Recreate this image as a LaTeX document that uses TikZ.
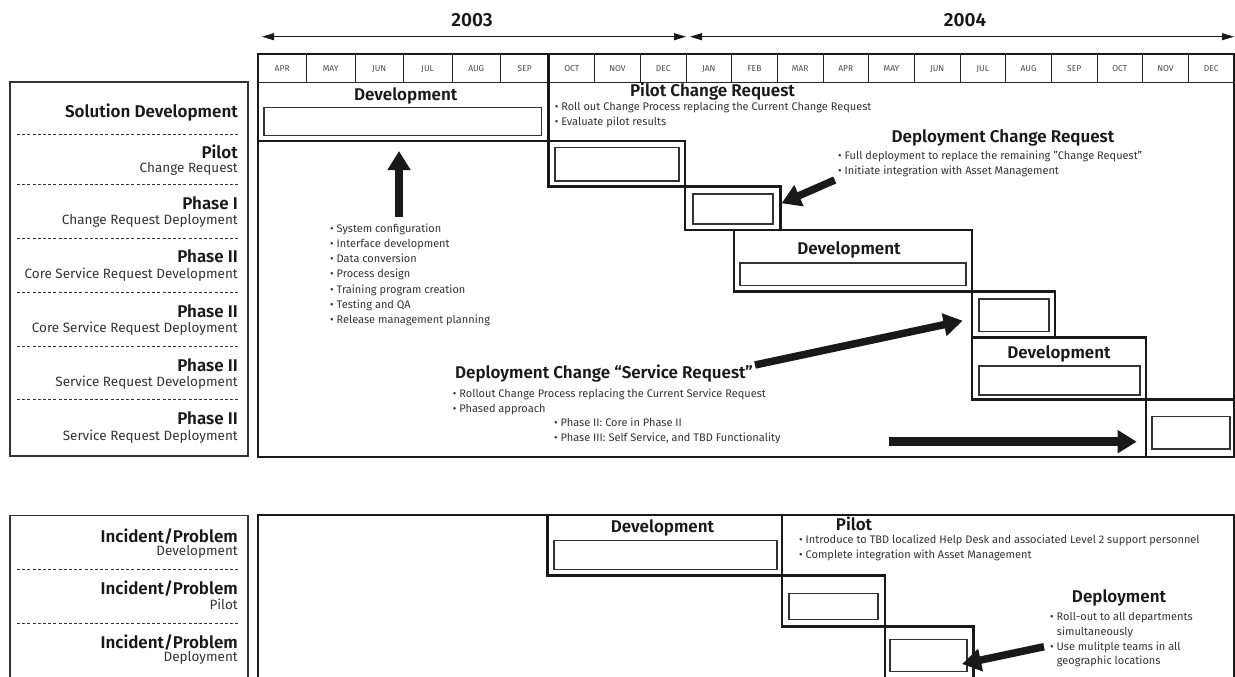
\documentclass[tikz,border=0pt]{standalone}
\usepackage{fontspec}
\setmainfont{Fira Sans}[BoldFont={Fira Sans SemiBold}]
\usetikzlibrary{arrows.meta,fit}
\tikzset{
  thickbox/.style={draw=black!90, line width=2.6pt, inner sep=0pt, outer sep=0pt},
  innerbox/.style={draw=black!80, line width=1.1pt, inner sep=0pt, outer sep=0pt},
  thinbox/.style={draw=black!80, line width=1.1pt, inner sep=0pt, outer sep=0pt},
  gridline/.style={draw=black!85, line width=0.8pt},
  sepline/.style={draw=black!80, line width=0.9pt, dash pattern=on 3pt off 2.2pt},
  monthlbl/.style={font=\fontsize{8.5}{10}\selectfont, text=black!70, inner sep=0pt, anchor=base},
  yearlbl/.style={font=\fontsize{19}{22}\selectfont\bfseries, text=black!90, inner sep=0pt, anchor=base},
  ttl/.style={font=\fontsize{17}{19}\selectfont\bfseries, text=black!90, inner sep=0pt, anchor=base},
  lbl/.style={font=\fontsize{17}{19}\selectfont\bfseries, text=black!90, inner sep=0pt, anchor=base east},
  sublbl/.style={font=\fontsize{13.5}{16}\selectfont, text=black!80, inner sep=0pt, anchor=base east},
  bul/.style={font=\fontsize{11}{13}\selectfont, text=black!80, inner sep=0pt, anchor=base west},
  sbul/.style={font=\fontsize{11}{13}\selectfont, text=black!80, inner sep=0pt, anchor=base west},
  blockarrow/.style={draw=black!90, line width=7.5pt, -{Triangle[length=19pt,width=22pt]}},
  yeararrow/.style={draw=black!90, line width=1pt, {Triangle[length=12pt,width=7pt]}-{Triangle[length=12pt,width=7pt]}},
}
\begin{document}
\begin{tikzpicture}[x=1pt,y=-1pt]
\useasboundingbox (0,0) rectangle (1235,677);
\clip (0,0) rectangle (1235,677);

% ---------- years ----------
\node[yearlbl] (y2003) at (472,26.5) {2003};
\node[yearlbl] (y2004) at (965,26.5) {2004};
\coordinate (a03l) at (262,36.7); \coordinate (a03r) at (686,36.7);
\coordinate (a04l) at (690,36.7); \coordinate (a04r) at (1234,36.7);
\draw[yeararrow] (a03l) -- (a03r);
\draw[yeararrow] (a04l) -- (a04r);

% ---------- month row ----------
\draw[gridline] (258,82) -- (1234,82);
\foreach \x in {306.5,355,403.5,452,500.5,594.7,640.4,686,731.7,777.4,823,868.7,914.4,960,1005.7,1051.4,1097,1142.7,1188.4}
  \draw[gridline] (\x,54) -- (\x,82);
\foreach \c/\m [count=\i] in {282.2/APR,330.7/MAY,379.2/JUN,427.7/JUL,476.2/AUG,524.7/SEP,571.8/OCT,617.5/NOV,663.2/DEC,708.8/JAN,754.5/FEB,800.2/MAR,845.8/APR,891.5/MAY,937.2/JUN,982.8/JUL,1028.5/AUG,1074.2/SEP,1119.8/OCT,1165.5/NOV,1211.2/DEC}
  \node[monthlbl] (m\i) at (\c,72) {\m};

% ---------- upper main box ----------
\node[thickbox, fit={(258,54)(1234,457)}] (main) {};

% gantt blocks
\node[thickbox, fit={(258,54)(548.5,141)}] (devA) {};
\node[innerbox, fit={(264,107.3)(541.7,135.7)}] (devAi) {};
\node[thickbox, fit={(548.5,141)(685,186.7)}] (pilA) {};
\node[innerbox, fit={(555,147.7)(679,181)}] (pilAi) {};
\node[thickbox, fit={(685,186.7)(780.5,230)}] (ph1) {};
\node[innerbox, fit={(693,194)(773,224)}] (ph1i) {};
\node[thickbox, fit={(734,230)(972,291.7)}] (devB) {};
\node[innerbox, fit={(740,263)(966,285.7)}] (devBi) {};
\node[thickbox, fit={(972,291.7)(1055,337.7)}] (cdep) {};
\node[innerbox, fit={(979,299)(1049,331.7)}] (cdepi) {};
\node[thickbox, fit={(972,337.7)(1146,399.3)}] (sdev) {};
\node[innerbox, fit={(979,366)(1140,395)}] (sdevi) {};
\node[thickbox, fit={(1146,399.3)(1234,457)}] (sdep) {};
\node[innerbox, fit={(1152,416.7)(1230,449)}] (sdepi) {};

% texts in upper box
\node[ttl] (devAt) at (405.7,100) {Development};
\node[ttl] (pcrT) at (712.5,96.7) {Pilot Change Request};
\node[bul] (pcr1) at (554.6,110.3) {• Roll out Change Process replacing the Current Change Request};
\node[bul] (pcr2) at (554.6,125) {• Evaluate pilot results};
\node[ttl] (dcrT) at (1003,142.7) {Deployment Change Request};
\node[bul] (dcr1) at (838,159.3) {• Full deployment to replace the remaining "Change Request"};
\node[bul] (dcr2) at (838,174) {• Initiate integration with Asset Management};
\node[ttl] (devBt) at (849,254.3) {Development};
\node[ttl] (sdevt) at (1059,358.3) {Development};

\node[bul] (sl1) at (330,232.3) {• System configuration};
\node[bul] (sl2) at (330,247.5) {• Interface development};
\node[bul] (sl3) at (330,262.7) {• Data conversion};
\node[bul] (sl4) at (330,277.9) {• Process design};
\node[bul] (sl5) at (330,293.1) {• Training program creation};
\node[bul] (sl6) at (330,308.3) {• Testing and QA};
\node[bul] (sl7) at (330,323.5) {• Release management planning};

\node[ttl] (dsrT) at (604,378.3) {Deployment Change “Service Request”};
\node[bul] (dsr1) at (452.7,397.3) {• Rollout Change Process replacing the Current Service Request};
\node[bul] (dsr2) at (452.7,412.3) {• Phased approach};
\node[sbul] (dsr3) at (554,426.7) {• Phase II: Core in Phase II};
\node[sbul] (dsr4) at (554,441) {• Phase III: Self Service, and TBD Functionality};

% arrows in upper box
\coordinate (upT) at (399,216.7); \coordinate (upH) at (399,151);
\draw[blockarrow, line width=8.5pt] (upT) -- (upH);
\coordinate (dcrA) at (834.8,180); \coordinate (dcrH) at (781.6,203.3);
\draw[blockarrow] (dcrA) -- (dcrH);
\coordinate (dsrA) at (755,365); \coordinate (dsrH) at (962.7,320.7);
\draw[blockarrow] (dsrA) -- (dsrH);
\coordinate (hzA) at (889,441.7); \coordinate (hzH) at (1136.7,441.7);
\draw[blockarrow, line width=9pt] (hzA) -- (hzH);

% ---------- upper left label box ----------
\node[thinbox, fit={(10,82)(248,456)}] (lbox) {};
\foreach \d in {134.3,184,238,292,346,399}
  \draw[sepline] (17,\d) -- (238,\d);
\node[lbl] (l0) at (238,117.5) {Solution Development};
\node[lbl] (l1) at (238,158.5) {Pilot};
\node[sublbl] (l1s) at (238,172.5) {Change Request};
\node[lbl] (l2) at (238,209) {Phase I};
\node[sublbl] (l2s) at (238,224.5) {Change Request Deployment};
\node[lbl] (l3) at (238,262.5) {Phase II};
\node[sublbl] (l3s) at (238,278.3) {Core Service Request Development};
\node[lbl] (l4) at (238,317) {Phase II};
\node[sublbl] (l4s) at (238,332.5) {Core Service Request Deployment};
\node[lbl] (l5) at (238,371) {Phase II};
\node[sublbl] (l5s) at (238,386.5) {Service Request Development};
\node[lbl] (l6) at (238,424.5) {Phase II};
\node[sublbl] (l6s) at (238,440.5) {Service Request Deployment};

% ---------- lower section ----------
\node[thinbox, fit={(10,515.5)(248,720)}] (lbox2) {};
\foreach \d in {569,623.3}
  \draw[sepline] (17,\d) -- (238,\d);
\node[lbl] (k1) at (238,542) {Incident/Problem};
\node[sublbl] (k1s) at (238,555.5) {Development};
\node[lbl] (k2) at (238,594.3) {Incident/Problem};
\node[sublbl] (k2s) at (238,609) {Pilot};
\node[lbl] (k3) at (238,648) {Incident/Problem};
\node[sublbl] (k3s) at (238,661.5) {Deployment};

\node[thickbox, fit={(258,515)(1234,720)}] (main2) {};
\node[thickbox, fit={(547.6,515)(782,575.7)}] (idev) {};
\node[innerbox, fit={(554,540.7)(777,569.3)}] (idevi) {};
\node[thickbox, fit={(782,575.7)(885,626.7)}] (ipil) {};
\node[innerbox, fit={(789,593.3)(878,619.3)}] (ipili) {};
\node[thickbox, fit={(885,626.7)(973.6,720)}] (idep) {};
\node[innerbox, fit={(890,639.3)(967,671.7)}] (idepi) {};

\node[ttl] (idevt) at (662.5,532.7) {Development};
\node[ttl] (ipt) at (854,530) {Pilot};
\node[bul] (ip1) at (799,543.3) {• Introduce to TBD localized Help Desk and associated Level 2 support personnel};
\node[bul] (ip2) at (799,558.3) {• Complete integration with Asset Management};
\node[ttl] (idt) at (1119,602.7) {Deployment};
\node[bul] (id1) at (1050,620.7) {• Roll-out to all departments};
\node[bul] (id2) at (1056.7,635) {simultaneously};
\node[bul] (id3) at (1050,650) {• Use mulitple teams in all};
\node[bul] (id4) at (1056.7,664) {geographic locations};

\coordinate (idA) at (1044,646.7); \coordinate (idH) at (962,664);
\draw[blockarrow] (idA) -- (idH);
\end{tikzpicture}
\end{document}
